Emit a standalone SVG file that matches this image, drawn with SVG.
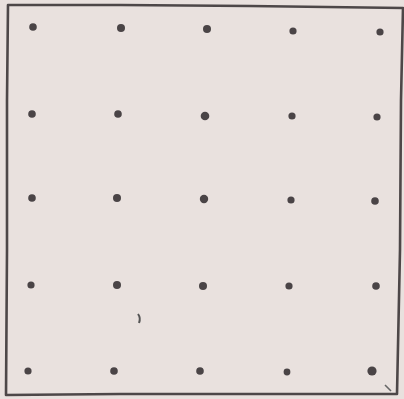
<svg xmlns="http://www.w3.org/2000/svg" width="404" height="399" viewBox="0 0 404 399">
<style>
.dot{fill:#4a4446}
.frame{fill:none;stroke:#4d4748;stroke-width:2.6;stroke-linejoin:round}
</style>
<rect x="0" y="0" width="404" height="399" fill="#e9e1de"/>
<path class="frame" d="M8,5 L120,5 L250,6 L403,8 L401,100 L400,250 L397,394 L250,394 L120,394 L6,395 L7,250 L7,100 Z"/>
<g id="dots">
<circle class="dot" cx="33" cy="27" r="3.8"/>
<circle class="dot" cx="121" cy="28" r="4"/>
<circle class="dot" cx="207" cy="29" r="4"/>
<circle class="dot" cx="293" cy="31" r="3.6"/>
<circle class="dot" cx="380" cy="32" r="3.6"/>
<circle class="dot" cx="32" cy="114" r="3.8"/>
<circle class="dot" cx="118" cy="114" r="3.8"/>
<circle class="dot" cx="205" cy="116" r="4.3"/>
<circle class="dot" cx="292" cy="116" r="3.6"/>
<circle class="dot" cx="377" cy="117" r="3.6"/>
<circle class="dot" cx="32" cy="198" r="3.8"/>
<circle class="dot" cx="117" cy="198" r="4"/>
<circle class="dot" cx="204" cy="199" r="4.2"/>
<circle class="dot" cx="291" cy="200" r="3.6"/>
<circle class="dot" cx="375" cy="201" r="3.8"/>
<circle class="dot" cx="31" cy="285" r="3.6"/>
<circle class="dot" cx="117" cy="285" r="4"/>
<circle class="dot" cx="203" cy="286" r="4"/>
<circle class="dot" cx="289" cy="286" r="3.6"/>
<circle class="dot" cx="376" cy="286" r="3.8"/>
<circle class="dot" cx="28" cy="371" r="3.6"/>
<circle class="dot" cx="114" cy="371" r="3.8"/>
<circle class="dot" cx="200" cy="371" r="3.8"/>
<circle class="dot" cx="287" cy="372" r="3.4"/>
<circle class="dot" cx="372" cy="371" r="4.6"/>
</g>
<path d="M138,314 Q141,318 139,323" fill="none" stroke="#555" stroke-width="2"/>
<path d="M385,385 L391,391" fill="none" stroke="#666" stroke-width="1.6"/>
</svg>
